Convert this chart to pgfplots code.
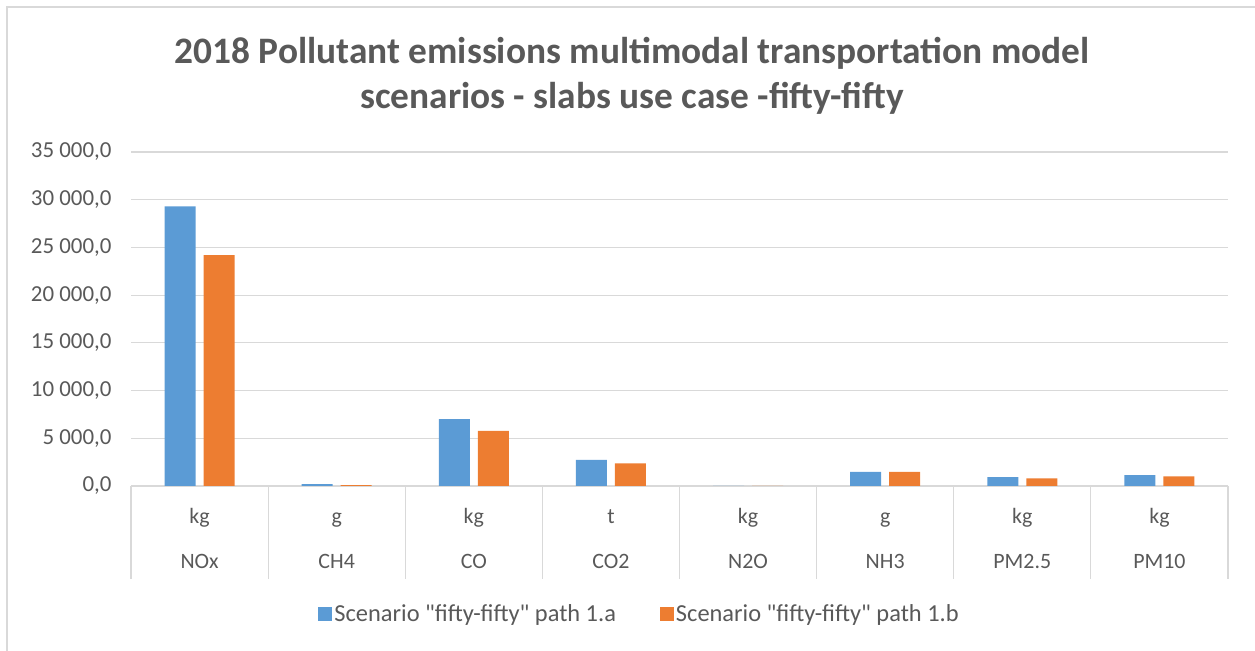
\documentclass[border=0pt]{standalone}
\usepackage{pgfplots}
\pgfplotsset{compat=1.18}
\usepackage{fontspec}
\setmainfont{Carlito}
\definecolor{cblue}{HTML}{5B9BD5}
\definecolor{corange}{HTML}{ED7D31}
\definecolor{tgray}{HTML}{595959}
\definecolor{ggray}{HTML}{D9D9D9}
\newcommand\ls{\vphantom{Akg}}
\begin{document}
\begin{tikzpicture}[x=1bp,y=1bp]
\path[use as bounding box] (0,0) rectangle (1255,651);
\draw[ggray, line width=1.5bp] (7,0) -- (7,644) -- (1255,644);
\node[font=\fontsize{37.5}{42}\selectfont\bfseries, text=tgray] at (632,598) {2018 Pollutant emissions multimodal transportation model};
\node[font=\fontsize{37.5}{42}\selectfont\bfseries, text=tgray] at (632,553) {scenarios - slabs use case -fifty-fifty};
\begin{axis}[
  at={(131bp,165bp)}, anchor=south west,
  width=1097bp, height=334bp, scale only axis,
  xmin=-0.5, xmax=7.5, ymin=0, ymax=35000,
  axis line style={draw=none},
  scaled y ticks=false,
  xtick pos=bottom, ytick pos=left,
  ybar=8bp, bar width=31bp,
  xtick={0,1,2,3,4,5,6,7},
  xticklabels={{\ls kg\\\ls NOx},{\ls g\\\ls CH4},{\ls kg\\\ls CO},{\ls t\\\ls CO2},{\ls kg\\\ls N2O},{\ls g\\\ls NH3},{\ls kg\\\ls PM2.5},{\ls kg\\\ls PM10}},
  xticklabel style={align=center, font=\fontsize{22}{45}\selectfont, text=tgray, yshift=-15bp},
  ytick={0,5000,10000,15000,20000,25000,30000,35000},
  yticklabels={{0,0},{5 000,0},{10 000,0},{15 000,0},{20 000,0},{25 000,0},{30 000,0},{35 000,0}},
  yticklabel style={font=\fontsize{23}{27}\selectfont, text=tgray, xshift=-16bp},
  tick style={draw=none},
  ymajorgrids, major grid style={draw=ggray, line width=1.2bp},
  extra x ticks={-0.5,0.5,1.5,2.5,3.5,4.5,5.5,6.5,7.5},
  extra x tick labels={},
  extra x tick style={tick style={draw=ggray, line width=1.2bp}, major tick length=93bp, tick align=outside, grid=none},
  legend columns=2,
  legend style={at={(0.4636,-0.383)}, anchor=center, draw=none, font=\fontsize{24.5}{30}\selectfont, text=tgray, /tikz/every even column/.append style={column sep=42bp}},
  legend cell align=left,
  legend image code/.code={\fill[#1] (-3bp,-7bp) rectangle (11bp,7bp);},
]
\addplot[fill=cblue, draw=none] coordinates {(0,29300) (1,200) (2,7000) (3,2750) (4,20) (5,1470) (6,930) (7,1130)};
\addplot[fill=corange, draw=none] coordinates {(0,24200) (1,100) (2,5780) (3,2380) (4,15) (5,1470) (6,800) (7,1000)};
\legend{Scenario \textquotedbl fifty-fifty\textquotedbl{} path 1.a, Scenario \textquotedbl fifty-fifty\textquotedbl{} path 1.b}
\end{axis}
\end{tikzpicture}
\end{document}
